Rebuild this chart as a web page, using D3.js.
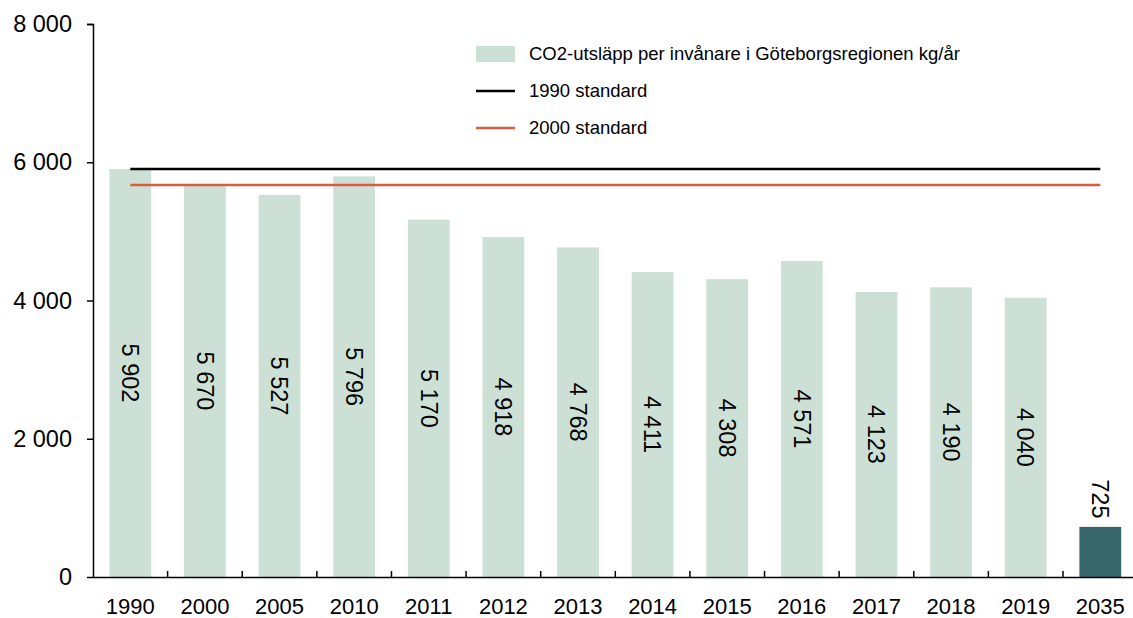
<!DOCTYPE html>
<html>
<head>
<meta charset="utf-8">
<script src="https://cdn.jsdelivr.net/npm/d3@7"></script>
<style>
  body { margin: 0; background: #fff; }
  text { font-family: "Liberation Sans", Arial, sans-serif; fill: #000; }
</style>
</head>
<body>
<svg id="chart" width="1133" height="618"></svg>
<script>
// data
var years = ["1990", "2000", "2005", "2010", "2011", "2012", "2013", "2014", "2015", "2016", "2017", "2018", "2019", "2035"];
var utslapp = [5902, 5670, 5527, 5796, 5170, 4918, 4768, 4411, 4308, 4571, 4123, 4190, 4040, 725];
var standard1990 = 5902;
var standard2000 = 5670;
var yTicks = [0, 2000, 4000, 6000, 8000];

var svg = d3.select("#chart"),
    width = +svg.attr("width"),
    height = +svg.attr("height");

var fmt = d3.formatLocale({ decimal: ",", thousands: " ", grouping: [3], currency: ["", " kr"] }).format(",d");

var x = d3.scaleBand().domain(years).range([93, 1137.6]).paddingInner(0.44).paddingOuter(0.22);
var y = d3.scaleLinear().domain([0, 8000]).range([577, 24]);

// bars
svg.append("g")
    .selectAll("rect")
    .data(utslapp)
    .enter()
    .append("rect")
    .attr("x", function (d, i) { return x(years[i]); })
    .attr("width", x.bandwidth())
    .attr("y", function (d) { return y(d); })
    .attr("height", function (d) { return y(0) - y(d); })
    .attr("fill", function (d, i) { return years[i] == "2035" ? "#36656a" : "#cce0d5"; });

// value labels (rotated)
svg.append("g")
    .selectAll("text")
    .data(utslapp)
    .enter()
    .append("text")
    .attr("transform", function (d, i) {
        var cx = x(years[i]) + x.bandwidth() / 2;
        var cy = years[i] == "2035" ? y(d) - 28 : y(d / 2);
        return "translate(" + cx + "," + cy + ") rotate(90)";
    })
    .attr("text-anchor", "middle")
    .attr("dy", "0.35em")
    .style("font-size", "23.5px")
    .text(function (d) { return fmt(d); });

// standard lines
var x0 = x(years[0]) + x.bandwidth() / 2,
    x1 = x(years[years.length - 1]) + x.bandwidth() / 2;
svg.append("line")
    .attr("x1", x0).attr("x2", x1)
    .attr("y1", y(standard1990)).attr("y2", y(standard1990))
    .attr("stroke", "#000").attr("stroke-width", 2.5);
svg.append("line")
    .attr("x1", x0).attr("x2", x1)
    .attr("y1", y(standard2000)).attr("y2", y(standard2000))
    .attr("stroke", "#dc5a3e").attr("stroke-width", 2.5);

// y axis
var yAxis = svg.append("g")
    .attr("transform", "translate(93,0)")
    .call(d3.axisLeft(y).tickValues(yTicks).tickSize(6).tickPadding(15).tickFormat(fmt));
yAxis.selectAll("text").style("font-size", "23.5px");
yAxis.select(".domain").attr("d", "M-6,24.5H0.5V577");
yAxis.selectAll("line, path").attr("stroke", "#000").attr("stroke-width", 1.5);

// x axis
var xAxis = svg.append("g")
    .attr("transform", "translate(0,577)")
    .call(d3.axisBottom(x).tickSize(0).tickPadding(21));
xAxis.selectAll("text").style("font-size", "22px");
xAxis.select(".domain").attr("d", "M93,0.5H1137").attr("stroke", "#000").attr("stroke-width", 1.5);
// tick marks between categories, pointing up
xAxis.append("g")
    .selectAll("line")
    .data(years.slice(1))
    .enter()
    .append("line")
    .attr("x1", function (d) { return x(d) - x.step() * x.paddingInner() / 2; })
    .attr("x2", function (d) { return x(d) - x.step() * x.paddingInner() / 2; })
    .attr("y1", 0).attr("y2", -6)
    .attr("stroke", "#000").attr("stroke-width", 1.5);

// legend
var legend = svg.append("g").attr("transform", "translate(476,0)");
legend.append("rect").attr("x", 0).attr("y", 46).attr("width", 39).attr("height", 16).attr("fill", "#cce0d5");
legend.append("line").attr("x1", 0).attr("x2", 39).attr("y1", 91).attr("y2", 91).attr("stroke", "#000").attr("stroke-width", 2.5);
legend.append("line").attr("x1", 0).attr("x2", 39).attr("y1", 128).attr("y2", 128).attr("stroke", "#dc5a3e").attr("stroke-width", 2.5);
var legendTexts = ["CO2-utsläpp per invånare i Göteborgsregionen kg/år", "1990 standard", "2000 standard"];
legend.selectAll("text.lg")
    .data(legendTexts)
    .enter()
    .append("text")
    .attr("class", "lg")
    .attr("x", 53)
    .attr("y", function (d, i) { return 54 + i * 37; })
    .attr("dy", "0.35em")
    .style("font-size", "18.5px")
    .text(function (d) { return d; });
</script>
</body>
</html>
